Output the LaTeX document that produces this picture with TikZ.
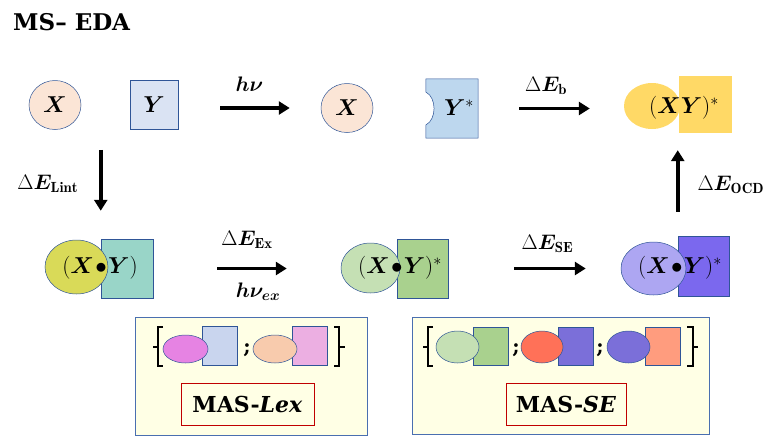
\RequirePackage{fix-cm}
\documentclass[tikz,border=0pt]{standalone}
\usepackage{amsmath,amssymb,bm}
\usepackage{fontspec}
\newfontfamily\headfont{DejaVu Serif}
\usepackage{tikz}
\usetikzlibrary{arrows.meta,calc,positioning,shapes.geometric}
\definecolor{outl}{HTML}{2F5597}
\definecolor{peach}{HTML}{FBE5D6}
\definecolor{paleblue}{HTML}{DAE3F3}
\definecolor{ystar}{HTML}{BDD7EE}
\definecolor{gold}{HTML}{FFD966}
\definecolor{lime}{HTML}{D9DA58}
\definecolor{teal}{HTML}{99D5C8}
\definecolor{lgreen}{HTML}{C5E0B4}
\definecolor{mgreen}{HTML}{A9D18E}
\definecolor{lpurple}{HTML}{ADA6F2}
\definecolor{mpurple}{HTML}{7B68EE}
\definecolor{cream}{HTML}{FFFFE5}
\definecolor{boxblue}{HTML}{4A6FB0}
\definecolor{masred}{HTML}{C00000}
\definecolor{magenta}{HTML}{E683E3}
\definecolor{lavblue}{HTML}{C9D5EE}
\definecolor{apricot}{HTML}{F8CBAD}
\definecolor{pink}{HTML}{ECAFE2}
\definecolor{coral}{HTML}{FF7158}
\definecolor{violet}{HTML}{7B6FD9}
\definecolor{salmon}{HTML}{FF9C7E}
\tikzset{
  mol/.style={ellipse,draw=outl,line width=0.5pt,inner sep=0pt},
  blk/.style={rectangle,draw=outl,line width=0.5pt,inner sep=0pt},
  rxn/.style={-{Triangle[length=11pt,width=13pt]},line width=3.5pt},
  lbl/.style={inner sep=0pt,font=\fontsize{21}{25}\selectfont},
  spc/.style={inner sep=0pt,font=\fontsize{23}{27}\selectfont},
  masbox/.style={draw=boxblue,fill=cream,line width=0.8pt,inner sep=0pt},
  maslbl/.style={draw=masred,line width=0.8pt,fill=cream,inner sep=0pt,font=\headfont\fontsize{22}{26}\selectfont\bfseries},
  semi/.style={inner sep=0pt,font=\headfont\fontsize{20}{24}\selectfont\bfseries},
  brc/.style={line width=2pt},
  title/.style={inner sep=0pt,font=\headfont\fontsize{23}{27}\selectfont\bfseries}
}
\begin{document}
\begin{tikzpicture}[x=1pt,y=-1pt]
\useasboundingbox (0,0) rectangle (780,440);
\node[title,anchor=west] (ttl) at (13,22) {MS– EDA};

% top row
\node[mol,fill=peach,minimum width=52pt,minimum height=49pt,spc] (X1) at (55,105) {$\bm{X}$};
\node[blk,fill=paleblue,minimum width=48pt,minimum height=49pt,spc] (Y1) at (154,105) {$\bm{Y}$};
\node[mol,fill=peach,minimum width=52pt,minimum height=49pt,spc] (X2) at (347,108) {$\bm{X}$};
\node[minimum width=52pt,minimum height=59pt,inner sep=0pt] (Ys) at (452,108.5) {};
\path[fill=ystar,draw=outl,line width=0.5pt] (Ys.north west) -- (Ys.north east) -- (Ys.south east)
  -- (Ys.south west) -- ($(Ys.west)+(0,16.5)$) .. controls ($(Ys.west)+(11,11)$) and ($(Ys.west)+(11,-11)$) .. ($(Ys.west)+(0,-16.5)$) -- cycle;
\node[spc] (Yst) at (459,108) {$\bm{Y}^{*}$};
\node[ellipse,fill=gold,minimum width=56pt,minimum height=46pt,inner sep=0pt] (XYe) at (652,106) {};
\node[rectangle,fill=gold,minimum width=53pt,minimum height=57pt,inner sep=0pt] (XYr) at (705.5,104.5) {};
\node[spc] (XYt) at (684,108) {$(\bm{XY})^{*}$};

% bottom row
\node[blk,fill=teal,minimum width=52pt,minimum height=59pt] (LIr) at (127,268.5) {};
\node[mol,fill=lime,minimum width=63pt,minimum height=54pt] (LIe) at (76.5,267) {};
\node[spc] (LIt) at (100,268) {$(\bm{X}\mkern-3mu\bullet\mkern-3mu\bm{Y})$};
\node[blk,fill=mgreen,minimum width=51pt,minimum height=59pt] (GRr) at (422.5,268.5) {};
\node[mol,fill=lgreen,minimum width=59pt,minimum height=50pt] (GRe) at (370.5,268) {};
\node[spc] (GRt) at (400,268) {$(\bm{X}\mkern-3mu\bullet\mkern-3mu\bm{Y})^{*}$};
\node[blk,fill=mpurple,minimum width=51pt,minimum height=60pt] (PUr) at (703.5,266) {};
\node[mol,fill=lpurple,minimum width=65pt,minimum height=53pt] (PUe) at (653.5,268.5) {};
\node[spc] (PUt) at (680,268) {$(\bm{X}\mkern-3mu\bullet\mkern-3mu\bm{Y})^{*}$};

% arrows
\draw[rxn,shorten <=42pt,shorten >=31pt] (Y1.east |- X2) -- node[lbl,above=15pt]{$\bm{h\nu}$} (X2.west);
\draw[rxn,shorten <=41pt,shorten >=34pt] (Ys.east) -- node[lbl,above=12pt,xshift=-5pt]{$\Delta\bm{E}_{\mathbf{b}}$} (Ys.east -| XYe.west);
\draw[rxn,shorten <=24pt,shorten >=17pt] (PUr.north west) -- node[lbl,right=18pt]{$\Delta\bm{E}_{\mathbf{OCD}}$} (PUr.north west |- XYr.south);
\draw[rxn,shorten <=20pt,shorten >=28pt] (LIr.north west |- X1.south) -- node[lbl,left=21pt]{$\Delta\bm{E}_{\mathbf{Lint}}$} (LIr.north west);
\draw[rxn,shorten <=64pt,shorten >=54pt] (LIr.east) -- node[lbl,above=18pt]{$\Delta\bm{E}_{\mathbf{Ex}}$}
  node[lbl,below=13pt,xshift=11pt]{$\bm{h\nu_{ex}}$} (LIr.east -| GRe.west);
\draw[rxn,shorten <=66pt,shorten >=35pt] (GRr.east) -- node[lbl,above=14pt,xshift=13pt]{$\Delta\bm{E}_{\mathbf{SE}}$} (GRr.east -| PUe.west);

% MAS-Lex
\node[masbox,minimum width=232pt,minimum height=118pt] (Lbox) at (251,376) {};
\node[blk,fill=lavblue,minimum width=35pt,minimum height=39pt] (LAr) at (219.5,345.5) {};
\node[mol,fill=magenta,minimum width=45pt,minimum height=28pt] (LAe) at (185.5,349) {};
\node[semi] (Ls1) at (247,350) {;};
\node[blk,fill=pink,minimum width=35pt,minimum height=39pt] (LBr) at (309.5,345.5) {};
\node[mol,fill=apricot,minimum width=44pt,minimum height=28pt] (LBe) at (275,349) {};
\draw[brc] (163,327) -- (158,327) -- (158,366) -- (163,366);
\draw[brc] (158,346.5) -- (153,346.5);
\draw[brc] (334,327) -- (339,327) -- (339,366) -- (334,366);
\draw[brc] (339,346.5) -- (345,346.5);
\node[maslbl,minimum width=133pt,minimum height=42pt] (Llbl) at (247.5,404) {MAS-\textit{Lex}};

% MAS-SE
\node[masbox,minimum width=297pt,minimum height=117pt] (Sbox) at (560.5,375.5) {};
\node[blk,fill=mgreen,minimum width=35pt,minimum height=38pt] (SAr) at (490.5,346) {};
\node[mol,fill=lgreen,minimum width=43pt,minimum height=32pt] (SAe) at (457.5,347) {};
\node[semi] (Ss1) at (516,350) {;};
\node[blk,fill=violet,minimum width=35pt,minimum height=38pt] (SBr) at (575.5,346) {};
\node[mol,fill=coral,minimum width=42pt,minimum height=32pt] (SBe) at (542,347) {};
\node[semi] (Ss2) at (600,350) {;};
\node[blk,fill=salmon,minimum width=35pt,minimum height=38pt] (SCr) at (662.5,346) {};
\node[mol,fill=violet,minimum width=43pt,minimum height=32pt] (SCe) at (628.5,347) {};
\draw[brc] (433,327) -- (428,327) -- (428,366) -- (433,366);
\draw[brc] (428,346.5) -- (423,346.5);
\draw[brc] (687,327) -- (693,327) -- (693,366) -- (687,366);
\draw[brc] (693,346.5) -- (698,346.5);
\node[maslbl,minimum width=120pt,minimum height=42pt] (Slbl) at (566,404) {MAS-\textit{SE}};
\end{tikzpicture}
\end{document}
